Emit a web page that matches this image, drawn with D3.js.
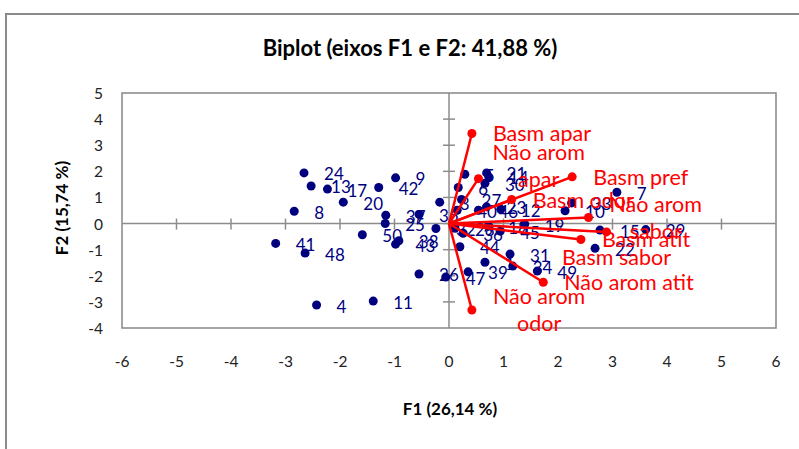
<!DOCTYPE html>
<html>
<head>
<meta charset="utf-8">
<script src="https://cdn.jsdelivr.net/npm/d3@7"></script>
<style>
  body { margin: 0; background: #fff; }
  text { font-family: Lato, "Open Sans", sans-serif; }
</style>
</head>
<body>
<div id="chart"></div>
<script>
// observations (dark blue points)
var obsLabels = ["24","13","17","20","8","42","9","37","25","35","3","50","43","38","41","48","4","11",
  "26","47","44","39","1","31","34","49","32","28","36","18","45","19","5","21","14","30","6","27",
  "40","46","23","12","10","33","7","15","29","22"];
var obsF1 = [-2.66,-2.53,-2.23,-1.94,-2.84,-1.29,-0.98,-1.16,-1.17,-0.55,-0.17,-1.59,-0.98,-0.92,-3.18,-2.64,-2.43,-1.39,
  -0.55,-0.06,0.20,0.35,0.66,1.12,1.17,1.62,-0.24,0.11,0.26,0.72,0.94,1.39,0.29,0.69,0.73,0.66,0.17,0.23,
  0.15,0.54,0.69,0.95,2.13,2.25,3.08,2.77,3.61,2.68];
var obsF2 = [1.94,1.44,1.32,0.82,0.47,1.38,1.75,0.32,0.00,0.35,0.82,-0.43,-0.79,-0.66,-0.76,-1.13,-3.12,-2.97,
  -1.93,-2.05,-0.89,-1.85,-1.48,-1.17,-1.63,-1.82,-0.19,-0.18,-0.37,-0.10,-0.29,-0.02,1.89,1.94,1.79,1.54,1.38,0.92,
  0.51,0.51,0.64,0.55,0.49,0.79,1.20,-0.25,-0.23,-0.95];

// variables (red vectors)
var varNames = ["Basm apar","Não arom\napar","Basm pref","Basm odor","Não arom\nsabor","Basm sabor","Basm atit","Não arom atit","Não arom\nodor"];
var varF1 = [0.42,0.54,2.26,1.15,2.56,2.89,2.42,1.73,0.42];
var varF2 = [3.45,1.72,1.79,0.92,0.23,-0.32,-0.61,-2.25,-3.31];
var varLabelSide = ["right","rightAbove","right","right","right","below","right","right","right"];

var xTickLabels = [-6,-5,-4,-3,-2,-1,0,1,2,3,4,5,6];
var yTickLabels = [-4,-3,-2,-1,0,1,2,3,4,5];

var width = 799, height = 449;
var plot = {left: 122, right: 776, top: 93, bottom: 328};

var svg = d3.select("#chart").append("svg")
    .attr("width", width)
    .attr("height", height);

// outer chart border
svg.append("rect")
    .attr("x", 6).attr("y", 14)
    .attr("width", 830).attr("height", 460)
    .attr("fill", "#fff")
    .attr("stroke", "#8a8a8a")
    .attr("stroke-width", 2);

var x = d3.scaleLinear().domain([-6, 6]).range([plot.left, plot.right]);
var y = d3.scaleLinear().domain([-4, 5]).range([plot.bottom, plot.top]);

// title
svg.append("text")
    .attr("x", 410).attr("y", 47)
    .attr("text-anchor", "middle")
    .attr("dominant-baseline", "central")
    .style("font-weight", "bold")
    .style("font-size", "22px")
    .text("Biplot (eixos F1 e F2: 41,88 %)");

// plot frame
svg.append("rect")
    .attr("x", plot.left).attr("y", plot.top)
    .attr("width", plot.right - plot.left)
    .attr("height", plot.bottom - plot.top)
    .attr("fill", "none")
    .attr("stroke", "#868686")
    .attr("stroke-width", 1.5);

// axes through the origin, cross ticks
var axisColor = "#8c8c8c";
svg.append("line")
    .attr("x1", plot.left).attr("x2", plot.right)
    .attr("y1", y(0)).attr("y2", y(0))
    .attr("stroke", axisColor).attr("stroke-width", 1.5);
svg.append("line")
    .attr("x1", x(0)).attr("x2", x(0))
    .attr("y1", plot.top).attr("y2", plot.bottom)
    .attr("stroke", axisColor).attr("stroke-width", 1.5);

svg.selectAll(".xtick")
    .data(xTickLabels.slice(1, -1))
    .enter().append("line")
    .attr("class", "xtick")
    .attr("x1", function(d) { return x(d); })
    .attr("x2", function(d) { return x(d); })
    .attr("y1", y(0) - 5).attr("y2", y(0) + 6)
    .attr("stroke", axisColor).attr("stroke-width", 1.5);

svg.selectAll(".ytick")
    .data(yTickLabels.slice(1, -1))
    .enter().append("line")
    .attr("class", "ytick")
    .attr("x1", x(0) - 6).attr("x2", x(0) + 6)
    .attr("y1", function(d) { return y(d); })
    .attr("y2", function(d) { return y(d); })
    .attr("stroke", axisColor).attr("stroke-width", 1.5);

// tick labels
svg.selectAll(".xlab")
    .data(xTickLabels)
    .enter().append("text")
    .attr("class", "xlab")
    .attr("x", function(d) { return x(d); })
    .attr("y", 361)
    .attr("text-anchor", "middle")
    .attr("dominant-baseline", "central")
    .style("font-size", "15.5px")
    .style("fill", "#222")
    .text(function(d) { return d; });

svg.selectAll(".ylab")
    .data(yTickLabels)
    .enter().append("text")
    .attr("class", "ylab")
    .attr("x", 103)
    .attr("y", function(d) { return y(d); })
    .attr("text-anchor", "end")
    .attr("dominant-baseline", "central")
    .style("font-size", "15.5px")
    .style("fill", "#222")
    .text(function(d) { return d; });

// axis titles
svg.append("text")
    .attr("x", 450).attr("y", 408)
    .attr("text-anchor", "middle")
    .attr("dominant-baseline", "central")
    .style("font-weight", "bold")
    .style("font-size", "17px")
    .text("F1 (26,14 %)");

svg.append("text")
    .attr("transform", "translate(61," + 208 + ") rotate(-90)")
    .attr("text-anchor", "middle")
    .attr("dominant-baseline", "central")
    .style("font-weight", "bold")
    .style("font-size", "17px")
    .text("F2 (15,74 %)");

// observations
var obs = obsLabels.map(function(l, i) { return {label: l, f1: obsF1[i], f2: obsF2[i]}; });
var navy = "#00007f";

svg.selectAll(".obs")
    .data(obs)
    .enter().append("circle")
    .attr("class", "obs")
    .attr("cx", function(d) { return x(d.f1); })
    .attr("cy", function(d) { return y(d.f2); })
    .attr("r", 4.5)
    .attr("fill", navy);

svg.selectAll(".obslab")
    .data(obs)
    .enter().append("text")
    .attr("class", "obslab")
    .attr("x", function(d) { return x(d.f1) + 20; })
    .attr("y", function(d) { return y(d.f2) + 1; })
    .attr("dominant-baseline", "central")
    .style("font-size", "17px")
    .style("fill", navy)
    .text(function(d) { return d.label; });

// variable vectors
var vars = varNames.map(function(n, i) {
  return {name: n, f1: varF1[i], f2: varF2[i], side: varLabelSide[i]};
});
var red = "#ff0000";

svg.selectAll(".vec")
    .data(vars)
    .enter().append("line")
    .attr("class", "vec")
    .attr("x1", x(0)).attr("y1", y(0))
    .attr("x2", function(d) { return x(d.f1); })
    .attr("y2", function(d) { return y(d.f2); })
    .attr("stroke", red)
    .attr("stroke-width", 2.5);

svg.selectAll(".tip")
    .data(vars)
    .enter().append("circle")
    .attr("class", "tip")
    .attr("cx", function(d) { return x(d.f1); })
    .attr("cy", function(d) { return y(d.f2); })
    .attr("r", 4.5)
    .attr("fill", red);

var lineH = 27;
var varLab = svg.selectAll(".varlab")
    .data(vars)
    .enter().append("text")
    .attr("class", "varlab")
    .style("font-size", "21.5px")
    .style("fill", red)
    .attr("text-anchor", "middle");

varLab.each(function(d) {
  var lines = d.name.split("\n");
  var t = d3.select(this);
  var cx, cy;
  var tmp = t.append("tspan").text(lines[0]);
  var w = 0;
  lines.forEach(function(l) {
    tmp.text(l);
    w = Math.max(w, tmp.node().getComputedTextLength());
  });
  tmp.remove();
  var y0;
  if (d.side === "below") {
    cx = x(d.f1) + 10;
    y0 = y(d.f2) + 25;
  } else if (d.side === "rightAbove") {
    cx = x(d.f1) + 14 + w / 2;
    y0 = y(d.f2) - (lines.length - 1) * lineH;
  } else {
    cx = x(d.f1) + 21 + w / 2;
    y0 = y(d.f2) - (lines.length - 1) * lineH / 2;
  }
  lines.forEach(function(l, i) {
    t.append("tspan")
      .attr("x", cx)
      .attr("y", y0 + i * lineH)
      .attr("dominant-baseline", "central")
      .text(l);
  });
});
</script>
</body>
</html>
